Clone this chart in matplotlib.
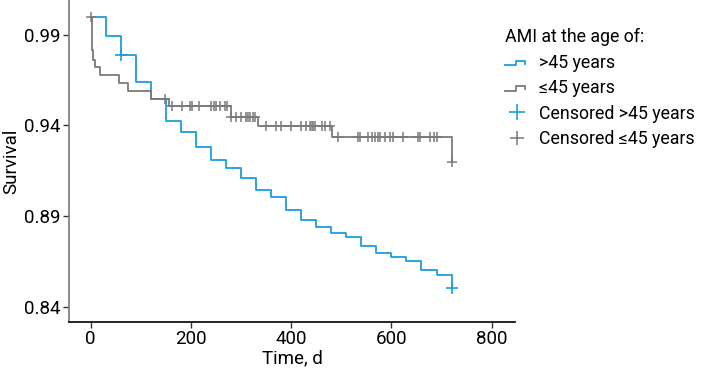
import numpy as np
import matplotlib
matplotlib.use('Agg')
import matplotlib.pyplot as plt
from matplotlib.lines import Line2D
from matplotlib.legend_handler import HandlerBase

plt.rcParams['font.family'] = ['Roboto', 'DejaVu Sans']

# survival curves (Kaplan-Meier)
old_days = [0, 30, 60, 90, 120, 150, 180, 210, 240, 270, 300, 330, 360,
            390, 420, 450, 480, 510, 540, 570, 600, 630, 660, 690, 720]
old_surv = [1.0, 0.9893, 0.9788, 0.9639, 0.9545, 0.9424, 0.9363, 0.9281,
            0.9209, 0.9165, 0.9110, 0.9044, 0.9005, 0.8933, 0.8878, 0.8839,
            0.8806, 0.8784, 0.8734, 0.8696, 0.8674, 0.8652, 0.8602, 0.8575,
            0.8503]
young_days = [0, 2.6, 4.6, 8.6, 18.6, 56, 74, 120, 156, 280, 334, 481, 720]
young_surv = [1.0, 0.9816, 0.9760, 0.9722, 0.9678, 0.9634, 0.9589, 0.9545,
              0.9507, 0.9446, 0.9396, 0.9336, 0.9198]

# censored times
old_cens = [60, 720]
young_cens = [0, 148, 162, 182, 198, 202, 217, 241, 246, 251, 258, 268, 273,
              281, 291, 301, 311, 314, 318, 324, 328,
              350, 370, 379, 399, 419, 429, 437, 441, 444, 447, 461, 467, 477,
              494, 534, 537, 554, 561, 567, 574, 578, 588, 598, 604, 624, 654,
              657, 677, 684, 690, 720]

blue = '#1a9ee0'
grey = '#7a7a7a'


def surv_at(t, days, surv):
    idx = np.searchsorted(days, t, side='right') - 1
    return np.array(surv)[idx]


class HandlerStep(HandlerBase):
    def create_artists(self, legend, orig_handle, xdescent, ydescent,
                       width, height, fontsize, trans):
        x0, w = -xdescent, width
        lo = -ydescent + height * 0.2
        hi = -ydescent + height * 0.55
        xs = [x0, x0 + 0.45 * w, x0 + 0.45 * w, x0 + 0.85 * w, x0 + 0.85 * w]
        ys = [lo, lo, hi, hi, lo + 0.12 * height]
        ln = Line2D(xs, ys, color=orig_handle.get_color(),
                    lw=orig_handle.get_linewidth(), transform=trans)
        return [ln]


fig = plt.figure(figsize=(7.03, 3.74), dpi=100)
ax = fig.add_axes([69 / 703, 1 - 322 / 374, (515 - 69) / 703, 322 / 374])

l1, = ax.step(old_days, old_surv, where='post', color=blue, lw=1.3)
l2, = ax.step(young_days, young_surv, where='post', color=grey, lw=1.3)
m1, = ax.plot(old_cens, surv_at(old_cens, old_days, old_surv), '+',
              color=blue, ms=8, mew=1.2, ls='none')
m2, = ax.plot(young_cens, surv_at(young_cens, young_days, young_surv), '+',
              color=grey, ms=7, mew=1.1, ls='none')

ax.set_xlim(-43, 846.5)
ax.set_ylim(0.8316, 1.0091)
ax.set_xticks([0, 200, 400, 600, 800])
ax.set_yticks([0.84, 0.89, 0.94, 0.99])
ax.set_yticklabels(['0.84', '0.89', '0.94', '0.99'])
ax.tick_params(labelsize=13.5, length=4, width=1, color='#333333', pad=2)
ax.set_xlabel('Time, d', fontsize=13.5, labelpad=1)
ax.set_ylabel('Survival', fontsize=13.5, labelpad=3)

for s in ['top', 'right']:
    ax.spines[s].set_visible(False)
ax.spines['left'].set_color('#7a7a7a')
ax.spines['bottom'].set_color('black')
ax.spines['left'].set_linewidth(1.2)
ax.spines['bottom'].set_linewidth(1.2)

leg = fig.legend([l1, l2, m1, m2],
                 ['>45 years', '≤45 years', 'Censored >45 years',
                  'Censored ≤45 years'],
                 handler_map={l1: HandlerStep(), l2: HandlerStep()},
                 title='AMI at the age of:', loc='upper left',
                 bbox_to_anchor=(498 / 703, 1 - 21 / 374), frameon=False,
                 fontsize=12.8, title_fontsize=12.8, handlelength=1.3,
                 handletextpad=0.6, labelspacing=0.42, borderaxespad=0,
                 markerscale=1.5)
leg._legend_box.align = 'left'

fig.savefig('out.png', dpi=100)
